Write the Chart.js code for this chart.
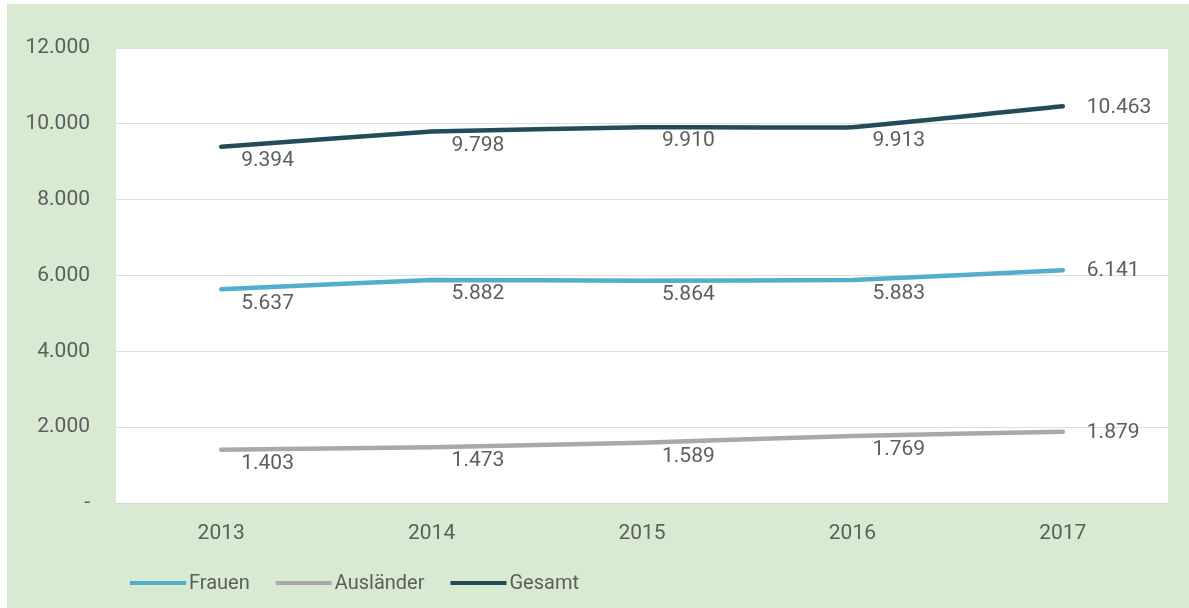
<!DOCTYPE html>
<html>
<head>
<meta charset="utf-8">
<script src="https://cdn.jsdelivr.net/npm/chart.js@4/dist/chart.umd.min.js"></script>
<style>
  html, body { margin: 0; padding: 0; background: #ffffff; }
  #wrap { width: 1189px; height: 608px; }
</style>
</head>
<body>
<div id="wrap"><canvas id="chart" width="1189" height="608"></canvas></div>
<script>
// Years on the x axis
const years = ['2013', '2014', '2015', '2016', '2017'];

// Series values
const frauen = [5637, 5882, 5864, 5883, 6141];
const auslaender = [1403, 1473, 1589, 1769, 1879];
const gesamt = [9394, 9798, 9910, 9913, 10463];

// Y axis tick labels (0 shown as a dash)
const yTickLabels = ['-', '2.000', '4.000', '6.000', '8.000', '10.000', '12.000'];

const fontFamily = 'Roboto, "Open Sans", sans-serif';
const textColor = '#5a5f5c';

// German thousands separator
function fmt(v) {
    return v.toString().replace(/\B(?=(\d{3})+(?!\d))/g, '.');
}

// green panel + white plot area behind everything
const backgroundPlugin = {
    id: 'panelBackground',
    beforeDraw(chart) {
        const ctx = chart.ctx;
        const a = chart.chartArea;
        ctx.save();
        ctx.fillStyle = '#d8ead2';
        ctx.fillRect(7, 4, chart.width - 7, chart.height - 4);
        ctx.fillStyle = '#ffffff';
        ctx.fillRect(a.left, a.top, a.right - a.left, a.bottom - a.top);
        ctx.restore();
    }
};

// value labels next to each point: below for the first four, right of the last one
const valueLabelPlugin = {
    id: 'valueLabels',
    afterDatasetsDraw(chart) {
        const ctx = chart.ctx;
        ctx.save();
        ctx.font = '21px ' + fontFamily;
        ctx.fillStyle = textColor;
        ctx.textAlign = 'left';
        ctx.textBaseline = 'middle';
        chart.data.datasets.forEach((ds, i) => {
            const meta = chart.getDatasetMeta(i);
            meta.data.forEach((pt, j) => {
                const last = j === meta.data.length - 1;
                const x = pt.x + (last ? 24 : 20);
                const y = pt.y + (last ? 1 : 14);
                ctx.fillText(fmt(ds.data[j]), x, y);
            });
        });
        ctx.restore();
    }
};

// legend row at the bottom left
const legendPlugin = {
    id: 'lineLegend',
    afterDraw(chart) {
        const ctx = chart.ctx;
        const y = 583;
        let x = 130;
        ctx.save();
        ctx.font = '20px ' + fontFamily;
        ctx.textBaseline = 'middle';
        ctx.textAlign = 'left';
        chart.data.datasets.forEach(ds => {
            ctx.strokeStyle = ds.borderColor;
            ctx.lineWidth = 4;
            ctx.beginPath();
            ctx.moveTo(x, y);
            ctx.lineTo(x + 56, y);
            ctx.stroke();
            x += 59;
            ctx.fillStyle = textColor;
            ctx.fillText(ds.label, x, y + 1);
            x += ctx.measureText(ds.label).width + 26;
        });
        ctx.restore();
    }
};

const lineStyle = {
    borderWidth: 4.5,
    pointRadius: 0,
    pointHoverRadius: 0,
    tension: 0.08,
    borderCapStyle: 'round',
    borderJoinStyle: 'round',
    fill: false
};

new Chart(document.getElementById('chart'), {
    type: 'line',
    data: {
        labels: years,
        datasets: [
            Object.assign({ label: 'Frauen', data: frauen, borderColor: '#52aecb' }, lineStyle),
            Object.assign({ label: 'Ausländer', data: auslaender, borderColor: '#a9a9ac' }, lineStyle),
            Object.assign({ label: 'Gesamt', data: gesamt, borderColor: '#214c58' }, lineStyle)
        ]
    },
    options: {
        responsive: false,
        animation: false,
        layout: { padding: { top: 48, right: 21, left: 0, bottom: 0 } },
        plugins: {
            legend: { display: false },
            tooltip: { enabled: false }
        },
        scales: {
            x: {
                offset: true,
                grid: {
                    display: true,
                    drawOnChartArea: false,
                    drawTicks: true,
                    tickLength: 5,
                    color: '#e4ece2',
                    offset: true
                },
                border: { display: true, color: '#d6d6d6', width: 1 },
                ticks: {
                    color: textColor,
                    font: { family: fontFamily, size: 21 },
                    padding: 13
                },
                afterFit(scale) { scale.height = 105; }
            },
            y: {
                min: 0,
                max: 12000,
                grid: { color: '#dedede', lineWidth: 1, drawTicks: false },
                border: { display: false },
                ticks: {
                    stepSize: 2000,
                    color: textColor,
                    font: { family: fontFamily, size: 21 },
                    padding: 26,
                    callback: (v, i) => yTickLabels[i]
                },
                afterFit(scale) { scale.width = 116; }
            }
        }
    },
    plugins: [backgroundPlugin, valueLabelPlugin, legendPlugin]
});
</script>
</body>
</html>
